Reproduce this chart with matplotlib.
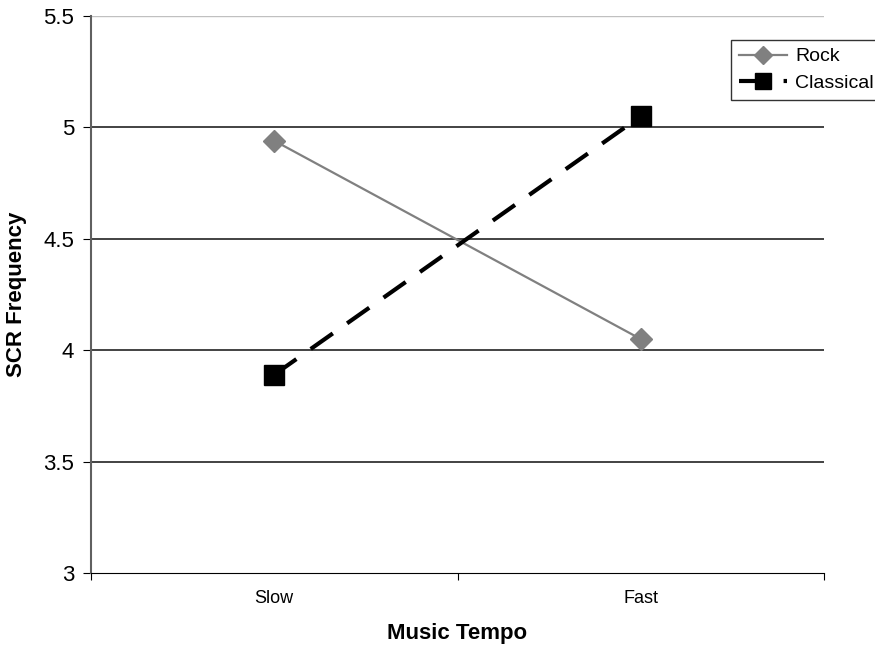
import matplotlib.pyplot as plt
from matplotlib.lines import Line2D

plt.rcParams['font.family'] = ['Liberation Sans', 'DejaVu Sans']

tempo = ['Slow', 'Fast']
rock = [4.94, 4.05]
classical = [3.89, 5.05]
y_ticks = [3, 3.5, 4, 4.5, 5, 5.5]
y_labels = ['3', '3.5', '4', '4.5', '5', '5.5']

fig = plt.figure(figsize=(8.75, 6.45), dpi=100)
ax = fig.add_axes([91 / 875, 1 - 573 / 645, 733 / 875, 557 / 645])

x = list(range(len(tempo)))

# horizontal grid
for v in y_ticks[1:-1]:
    ax.axhline(v, color='#222222', linewidth=1.2, zorder=1)
ax.axhline(5.5, color='#c0c0c0', linewidth=1.0, zorder=1)

ax.plot(x, rock, color='#808080', linewidth=1.6, marker='D', markersize=11,
        markerfacecolor='#808080', markeredgecolor='#808080', zorder=3)
ax.plot(x, classical, color='black', linewidth=3, linestyle=(0, (6.5, 4.2)),
        marker='s', markersize=15, markerfacecolor='black', zorder=4)

ax.set_xlim(-0.5, 1.5)
ax.set_ylim(3, 5.5)
ax.set_yticks(y_ticks)
ax.set_yticklabels(y_labels, fontsize=16)
ax.set_xticks([-0.5, 0.5, 1.5])
ax.set_xticklabels([])
ax.set_xticks(x, minor=True)
ax.set_xticklabels(tempo, minor=True, fontsize=13)
ax.tick_params(axis='x', which='minor', length=0, pad=12)
ax.tick_params(axis='x', which='major', length=5, direction='out')
ax.tick_params(axis='y', length=6, direction='out', pad=6)

for side in ['top', 'right']:
    ax.spines[side].set_visible(False)
ax.spines['left'].set_color('#606060')
ax.spines['left'].set_linewidth(1.5)
ax.spines['bottom'].set_color('black')

ax.set_xlabel('Music Tempo', fontsize=16, fontweight='bold', labelpad=12)
ax.set_ylabel('SCR Frequency', fontsize=16, fontweight='bold', labelpad=12)

handles = [
    Line2D([], [], color='#808080', linewidth=1.6, marker='D', markersize=9,
           markerfacecolor='#808080', markeredgecolor='#808080'),
    Line2D([], [], color='black', linewidth=3, linestyle=(0, (6.5, 4.2)),
           marker='s', markersize=12, markerfacecolor='black'),
]
leg = fig.legend(handles, ['Rock', 'Classical'], loc='upper left',
                 bbox_to_anchor=(731 / 875, 1 - 40 / 645), fontsize=14,
                 frameon=True, fancybox=False, edgecolor='black',
                 borderpad=0.4, handlelength=2.5, handletextpad=0.4,
                 labelspacing=0.45, borderaxespad=0)
leg.get_frame().set_linewidth(1.0)

fig.savefig('out.png', dpi=100)
